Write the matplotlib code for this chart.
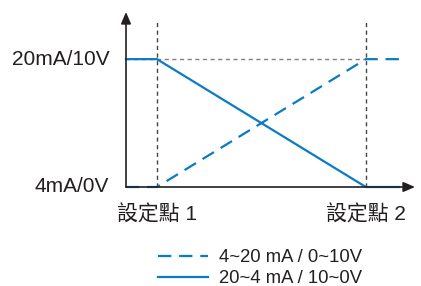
import matplotlib
matplotlib.use("Agg")
import matplotlib.pyplot as plt

plt.rcParams['font.family'] = ['Liberation Sans', 'Noto Sans CJK TC', 'DejaVu Sans']

# x positions (percent of axis length), y in mA
x_pts = [0, 10.7, 83.0, 94.5]
rising = [4, 4, 20, 20]      # 4~20 mA / 0~10V
falling = [20, 20, 4, 4]     # 20~4 mA / 10~0V
setpoints = [10.7, 83.0]
setpoint_labels = ['設定點 1', '設定點 2']
y_levels = [4, 20]
y_labels = ['4mA/0V', '20mA/10V']
legend_labels = ['4~20 mA / 0~10V', '20~4 mA / 10~0V']

blue = '#0a7bc4'
dark = '#231f20'

fig = plt.figure(figsize=(4.21, 2.86), dpi=100)
ax = fig.add_axes([126 / 421, (286 - 187) / 286, (415 - 126) / 421, (187 - 12) / 286])
ax.set_xlim(0, 100)
ax.set_ylim(4, 25.9)
for s in ax.spines.values():
    s.set_visible(False)
ax.set_xticks([])
ax.set_yticks([])

# guide lines
ax.plot([0, setpoints[1]], [20, 20], color='#808080', lw=1, dashes=(3, 2.5))
for sp in setpoints:
    ax.plot([sp, sp], [4, 24.6], color='#444444', lw=1, dashes=(3, 2.5))

# axes with arrows
arrow = dict(arrowstyle='-|>,head_length=0.7,head_width=0.3', color=dark, lw=1.2,
             shrinkA=0, shrinkB=0)
ax.annotate('', xy=(1, 0), xytext=(0, 0), xycoords='axes fraction', arrowprops=arrow)
ax.annotate('', xy=(0, 1), xytext=(0, 0), xycoords='axes fraction', arrowprops=arrow)

l1, = ax.plot(x_pts, rising, color=blue, lw=1.6, dashes=(6, 3.5), clip_on=False)
l2, = ax.plot(x_pts, falling, color=blue, lw=1.6, clip_on=False)

for y, lab in zip(y_levels, y_labels):
    ax.text(-5.8, y, lab, ha='right', va='center', fontsize=15, color=dark)
for sp, lab in zip(setpoints, setpoint_labels):
    ax.text(sp, 0.6, lab, ha='center', va='center', fontsize=15, color=dark)

fig.legend([l1, l2], legend_labels, loc='center left', bbox_to_anchor=(145 / 421, 1 - 268 / 286),
           frameon=False, fontsize=13.3, handlelength=2.7, handletextpad=0.6,
           labelspacing=0.22, labelcolor=dark, borderpad=0.2)

fig.savefig('out.png', dpi=100)
